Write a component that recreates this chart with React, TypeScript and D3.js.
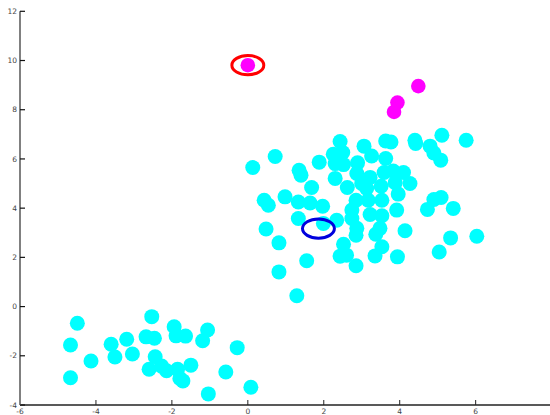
import React from "react";
import * as d3 from "d3";

const W = 550;
const H = 415;

const xTicks = [-6, -4, -2, 0, 2, 4, 6];
const yTicks = [-4, -2, 0, 2, 4, 6, 8, 10, 12];

const clusterLowX = [-4.49, -4.67, -4.67, -4.13, -3.6, -3.5, -3.19, -3.04, -2.53, -2.68, -2.46, -2.44, -2.6, -2.27, -2.14, -1.94, -1.89, -1.64, -1.85, -1.79, -1.71, -1.5, -1.19, -1.06, -1.04, -0.58, -0.28, 0.08];
const clusterLowY = [-0.68, -1.56, -2.89, -2.21, -1.53, -2.05, -1.33, -1.93, -0.41, -1.23, -1.29, -2.04, -2.55, -2.42, -2.61, -0.82, -1.19, -1.2, -2.55, -2.92, -3.02, -2.38, -1.39, -0.95, -3.55, -2.66, -1.67, -3.28];

const clusterHighX = [0.13, 0.72, 1.35, 1.4, 1.88, 2.43, 2.25, 2.5, 2.3, 2.52, 2.3, 1.68, 3.06, 3.26, 3.63, 3.77, 3.63, 4.4, 4.42, 5.11, 5.75, 4.8, 4.9, 5.08, 2.89, 2.87, 3.22, 3.59, 3.83, 4.1, 4.27, 2.62, 3.0, 3.13, 3.51, 3.88, 3.96, 0.43, 0.54, 0.98, 1.33, 1.64, 1.97, 2.85, 3.17, 3.53, 3.92, 4.9, 5.09, 4.73, 5.41, 1.33, 2.34, 2.74, 2.74, 3.22, 3.53, 1.99, 0.48, 2.87, 2.85, 3.48, 3.37, 4.14, 5.34, 6.03, 0.82, 2.52, 2.43, 2.6, 3.53, 3.35, 3.94, 5.04, 1.55, 2.85, 0.82, 1.29];
const clusterHighY = [5.65, 6.1, 5.54, 5.34, 5.87, 6.71, 6.19, 6.26, 5.81, 5.77, 5.21, 4.84, 6.52, 6.12, 6.73, 6.69, 6.02, 6.76, 6.63, 6.96, 6.76, 6.52, 6.24, 5.95, 5.84, 5.41, 5.25, 5.45, 5.51, 5.45, 5.0, 4.84, 5.0, 4.8, 4.89, 5.03, 4.57, 4.32, 4.12, 4.46, 4.25, 4.21, 4.08, 4.32, 4.32, 4.32, 3.92, 4.35, 4.43, 3.95, 3.99, 3.58, 3.51, 3.92, 3.58, 3.74, 3.69, 3.38, 3.15, 3.18, 2.9, 3.18, 2.94, 3.08, 2.79, 2.86, 2.59, 2.53, 2.05, 2.09, 2.43, 2.06, 2.02, 2.22, 1.86, 1.66, 1.41, 0.44];

const outlierX = [0.0, 4.49, 3.94, 3.85];
const outlierY = [9.81, 8.96, 8.29, 7.91];

const markerCenters = [
  { x: 0.0, y: 9.81, color: "#ff0000" },
  { x: 1.86, y: 3.17, color: "#0000dd" },
];
const markerRadiusX = 0.42;
const markerRadiusY = 0.39;

export default function App() {
  const x = d3.scaleLinear().domain([-6, 8]).range([20, 551.6]);
  const y = d3.scaleLinear().domain([-4, 12]).range([405, 11.3]);

  const cyan = [...clusterLowX.map((v, i) => [v, clusterLowY[i]]), ...clusterHighX.map((v, i) => [v, clusterHighY[i]])];
  const mag = outlierX.map((v, i) => [v, outlierY[i]]);

  const rx = x(markerRadiusX) - x(0);
  const ry = y(0) - y(markerRadiusY);

  return (
    <svg
      width={W}
      height={H}
      style={{ position: "absolute", left: 0, top: 0, background: "#fff" }}
      fontFamily="DejaVu Sans, sans-serif"
    >
      <rect x={0} y={0} width={W} height={H} fill="#fff" />
      {cyan.map((d, i) => (
        <circle key={"c" + i} cx={x(d[0])} cy={y(d[1])} r={7.5} fill="#00ffff" />
      ))}
      {mag.map((d, i) => (
        <circle key={"m" + i} cx={x(d[0])} cy={y(d[1])} r={7.3} fill="#ff00ff" />
      ))}
      {markerCenters.map((m, i) => (
        <ellipse key={"e" + i} cx={x(m.x)} cy={y(m.y)} rx={rx} ry={ry} fill="none" stroke={m.color} strokeWidth={3} />
      ))}
      {/* x axis */}
      <line x1={x(-6)} x2={W} y1={y(-4)} y2={y(-4)} stroke="#222" strokeWidth={1.5} />
      {xTicks.map((t) => (
        <g key={"xt" + t}>
          <line x1={x(t)} x2={x(t)} y1={y(-4)} y2={y(-4) - 5} stroke="#222" strokeWidth={1} />
          <text x={x(t)} y={413.5} fontSize={7.5} fill="#444" textAnchor="middle">
            {t}
          </text>
        </g>
      ))}
      {/* y axis */}
      <line x1={x(-6)} x2={x(-6)} y1={y(12)} y2={y(-4)} stroke="#808080" strokeWidth={2} />
      {yTicks.map((t) => (
        <g key={"yt" + t}>
          <line x1={x(-6)} x2={x(-6) + 5} y1={y(t)} y2={y(t)} stroke="#111" strokeWidth={1.2} />
          <text x={17} y={y(t) + 2.7} fontSize={7.5} fill="#444" textAnchor="end">
            {t}
          </text>
        </g>
      ))}
    </svg>
  );
}
